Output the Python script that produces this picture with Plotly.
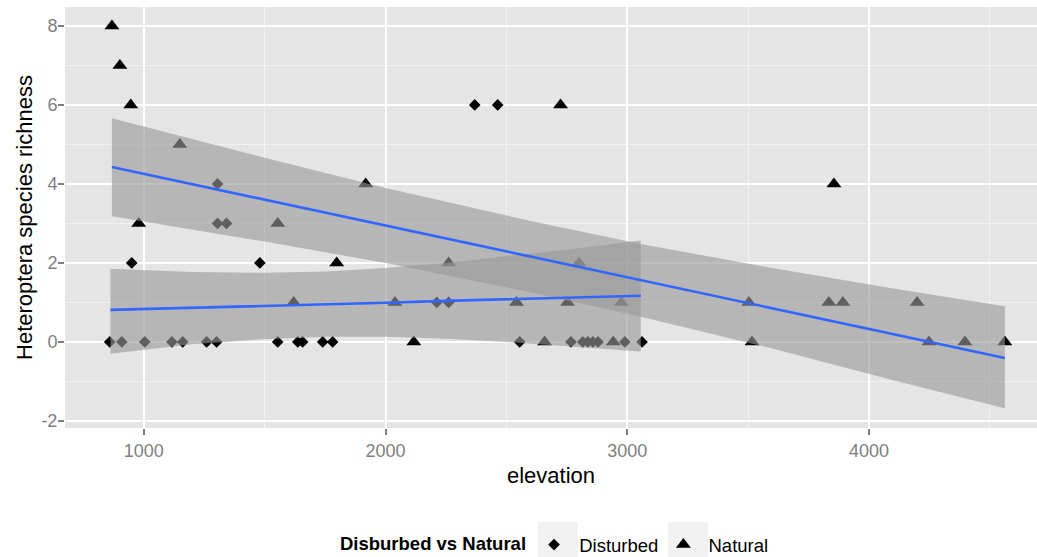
import plotly.graph_objects as go

# ---- data ----
dist_elev = [859, 909, 950, 1004, 1116, 1161, 1260, 1301, 1305, 1305, 1342, 1480,
             1554, 1637, 1657, 1740, 1781, 2212, 2261, 2369, 2464, 2555, 2767,
             2816, 2837, 2858, 2879, 2990, 3061]
dist_rich = [0, 0, 2, 0, 0, 0, 0, 0, 4, 3, 3, 2,
             0, 0, 0, 0, 0, 1, 1, 6, 6, 0, 0,
             0, 0, 0, 0, 0, 0]
nat_elev = [868, 901, 946, 979, 1149, 1554, 1620, 1798, 1918, 2039, 2117, 2261,
            2542, 2658, 2724, 2753, 2800, 2942, 2975, 3503, 3516, 3834, 3855,
            3892, 4199, 4248, 4397, 4562]
nat_rich = [8, 7, 6, 3, 5, 3, 1, 2, 4, 1, 0, 2,
            1, 0, 6, 1, 2, 0, 1, 1, 0, 1, 4,
            1, 1, 0, 0, 0]

# linear smoother (fit and 95% band)
dist_fit_x = [862, 1200, 1498, 1750, 2000, 2250, 2500, 2780, 3056]
dist_fit = [0.81, 0.86, 0.91, 0.95, 0.99, 1.04, 1.08, 1.12, 1.17]
dist_upper = [1.85, 1.77, 1.75, 1.78, 1.87, 2.00, 2.17, 2.36, 2.57]
dist_lower = [-0.30, -0.06, 0.07, 0.13, 0.13, 0.08, 0.00, -0.12, -0.24]

nat_fit_x = [868, 1500, 2000, 2600, 3056, 3600, 4100, 4562]
nat_fit = [4.43, 3.60, 2.95, 2.16, 1.56, 0.85, 0.19, -0.41]
nat_upper = [5.66, 4.66, 3.90, 3.06, 2.48, 1.87, 1.35, 0.90]
nat_lower = [3.18, 2.54, 2.00, 1.26, 0.64, -0.17, -0.97, -1.68]

x_ticks = [1000, 2000, 3000, 4000]
y_ticks = [-2, 0, 2, 4, 6, 8]

FONT = "Liberation Sans, Arial, sans-serif"
NBSP = "\u00a0"

fig = go.Figure()

# points first (the ribbons are drawn over them, as in the original)
fig.add_trace(go.Scatter(x=dist_elev, y=dist_rich, mode="markers",
                         name=NBSP + "Disturbed",
                         marker=dict(symbol="diamond", size=9, color="black")))
fig.add_trace(go.Scatter(x=nat_elev, y=nat_rich, mode="markers",
                         name=NBSP + "Natural",
                         marker=dict(symbol="triangle-up", size=13, color="black")))

for bx, lo, hi in [(dist_fit_x, dist_lower, dist_upper),
                   (nat_fit_x, nat_lower, nat_upper)]:
    fig.add_trace(go.Scatter(x=list(bx) + list(bx)[::-1],
                             y=list(hi) + list(lo)[::-1],
                             mode="lines", fill="toself",
                             fillcolor="rgba(153,153,153,0.62)",
                             line=dict(width=0), hoverinfo="skip",
                             showlegend=False))
for bx, f in [(dist_fit_x, dist_fit), (nat_fit_x, nat_fit)]:
    fig.add_trace(go.Scatter(x=bx, y=f, mode="lines",
                             line=dict(color="#3366FF", width=2.6),
                             hoverinfo="skip", showlegend=False))

tick_font = dict(family=FONT, size=18, color="#7F7F7F")
title_font = dict(family=FONT, size=22, color="black")

# legend key backgrounds (ggplot grey95 key boxes)
for x0, x1 in [(538, 578), (668, 708)]:
    fig.add_shape(type="rect", xref="paper", yref="paper", layer="below",
                  x0=(x0 - 65) / 972, x1=(x1 - 65) / 972,
                  y0=(428 - 567) / 421, y1=(428 - 522) / 421,
                  line=dict(width=0), fillcolor="#F2F2F2")

fig.update_layout(
    width=1037, height=557,
    margin=dict(l=65, r=0, t=7, b=129, autoexpand=False),
    paper_bgcolor="white",
    plot_bgcolor="#E5E5E5",
    showlegend=True,
    legend=dict(orientation="h", x=0.5051, xanchor="center", y=-0.278,
                yanchor="middle",
                title=dict(text="<b>Disburbed vs Natural</b>",
                           font=dict(family=FONT, size=18.5, color="black")),
                font=dict(family=FONT, size=18.5, color="black"),
                bgcolor="rgba(0,0,0,0)"),
    xaxis=dict(range=[674, 4695], tickmode="array", tickvals=x_ticks,
               ticktext=[str(v) for v in x_ticks], automargin=False,
               showgrid=True, gridcolor="white", gridwidth=2, zeroline=False,
               ticks="outside", ticklen=6, tickwidth=1.5, tickcolor="#7F7F7F",
               tickfont=tick_font,
               minor=dict(dtick=500, tick0=500, showgrid=True, gridcolor="#F2F2F2",
                          gridwidth=1, ticks=""),
               title=dict(text="elevation", font=title_font, standoff=8),
               showline=False),
    yaxis=dict(range=[-2.18, 8.48], tickmode="array", tickvals=y_ticks,
               ticktext=[str(v) for v in y_ticks], automargin=False,
               showgrid=True, gridcolor="white", gridwidth=2, zeroline=False,
               ticks="outside", ticklen=6, tickwidth=1.5, tickcolor="#7F7F7F",
               tickfont=tick_font, ticklabelstandoff=-3,
               minor=dict(dtick=1, tick0=1, showgrid=True, gridcolor="#F2F2F2",
                          gridwidth=1, ticks=""),
               title=dict(text="Heteroptera species richness", font=title_font,
                          standoff=2),
               showline=False),
)

# remove the browser's default 8px page margin so the figure sits at (0, 0)
fig.write_html("out.html",
               config={"displayModeBar": False},
               post_script="document.body.style.margin='0';"
                           "document.body.style.overflow='hidden';")
